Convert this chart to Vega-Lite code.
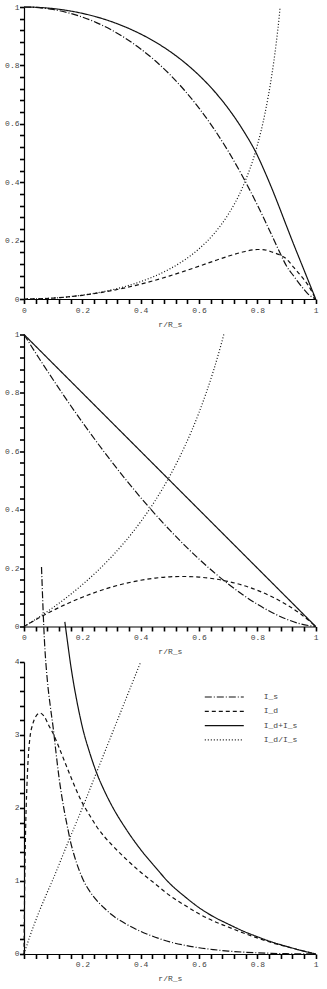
{
"$schema": "https://vega.github.io/schema/vega-lite/v6.json",
"padding": {"left": 4, "top": 3, "right": 5, "bottom": 2},
"spacing": 35.5,
"bounds": "flush",
"resolve": {"scale": {"strokeDash": "independent", "strokeWidth": "independent"}, "legend": {"strokeDash": "independent", "strokeWidth": "independent"}},
"config": {
  "view": {"stroke": null},
  "font": "Liberation Mono",
  "axis": {"domainColor": "#000", "ticks": true, "tickOpacity": 1, "tickColor": "#000", "tickSize": 4.5, "tickWidth": 1.6, "labelFont": "Liberation Mono", "labelFontSize": 8, "labelColor": "#444", "titleFont": "Liberation Mono", "titleFontSize": 8, "titleFontWeight": "normal", "titleColor": "#444", "grid": false, "labelOverlap": false, "labelFlush": false, "domainWidth": 1.2, "format": "~g"},
  "line": {"clip": true, "interpolate": "monotone", "color": "#111"}
},
"datasets": {
"p1": [
{"s":"I_s","x":0,"v":1},{"s":"I_s","x":0.05,"v":0.9979},{"s":"I_s","x":0.1,"v":0.9915},{"s":"I_s","x":0.15,"v":0.9807},{"s":"I_s","x":0.2,"v":0.9656},{"s":"I_s","x":0.25,"v":0.9458},{"s":"I_s","x":0.3,"v":0.9212},{"s":"I_s","x":0.35,"v":0.8916},{"s":"I_s","x":0.4,"v":0.8565},{"s":"I_s","x":0.45,"v":0.8158},{"s":"I_s","x":0.5,"v":0.7688},{"s":"I_s","x":0.55,"v":0.715},{"s":"I_s","x":0.6,"v":0.6538},{"s":"I_s","x":0.65,"v":0.5845},{"s":"I_s","x":0.7,"v":0.5064},{"s":"I_s","x":0.75,"v":0.4189},{"s":"I_s","x":0.8,"v":0.322},{"s":"I_s","x":0.825,"v":0.2703},{"s":"I_s","x":0.85,"v":0.2171},{"s":"I_s","x":0.875,"v":0.1634},{"s":"I_s","x":0.9,"v":0.113},{"s":"I_s","x":0.925,"v":0.078},{"s":"I_s","x":0.95,"v":0.045},{"s":"I_s","x":0.975,"v":0.016},{"s":"I_s","x":1,"v":0},
{"s":"I_d","x":0,"v":0},{"s":"I_d","x":0.05,"v":0.0008},{"s":"I_d","x":0.1,"v":0.0031},{"s":"I_d","x":0.15,"v":0.0072},{"s":"I_d","x":0.2,"v":0.0127},{"s":"I_d","x":0.25,"v":0.0199},{"s":"I_d","x":0.3,"v":0.0287},{"s":"I_d","x":0.35,"v":0.039},{"s":"I_d","x":0.4,"v":0.051},{"s":"I_d","x":0.45,"v":0.0644},{"s":"I_d","x":0.5,"v":0.0793},{"s":"I_d","x":0.55,"v":0.0954},{"s":"I_d","x":0.6,"v":0.1124},{"s":"I_d","x":0.65,"v":0.1298},{"s":"I_d","x":0.7,"v":0.1465},{"s":"I_d","x":0.75,"v":0.1609},{"s":"I_d","x":0.8,"v":0.1696},{"s":"I_d","x":0.825,"v":0.1685},{"s":"I_d","x":0.85,"v":0.1609},{"s":"I_d","x":0.875,"v":0.152},{"s":"I_d","x":0.9,"v":0.137},{"s":"I_d","x":0.925,"v":0.108},{"s":"I_d","x":0.95,"v":0.079},{"s":"I_d","x":0.975,"v":0.046},{"s":"I_d","x":1,"v":0},
{"s":"I_d+I_s","x":0,"v":1},{"s":"I_d+I_s","x":0.05,"v":0.9987},{"s":"I_d+I_s","x":0.1,"v":0.9946},{"s":"I_d+I_s","x":0.15,"v":0.9879},{"s":"I_d+I_s","x":0.2,"v":0.9783},{"s":"I_d+I_s","x":0.25,"v":0.9657},{"s":"I_d+I_s","x":0.3,"v":0.9499},{"s":"I_d+I_s","x":0.35,"v":0.9306},{"s":"I_d+I_s","x":0.4,"v":0.9075},{"s":"I_d+I_s","x":0.45,"v":0.8802},{"s":"I_d+I_s","x":0.5,"v":0.8481},{"s":"I_d+I_s","x":0.55,"v":0.8104},{"s":"I_d+I_s","x":0.6,"v":0.7662},{"s":"I_d+I_s","x":0.65,"v":0.7143},{"s":"I_d+I_s","x":0.7,"v":0.6529},{"s":"I_d+I_s","x":0.75,"v":0.5798},{"s":"I_d+I_s","x":0.8,"v":0.492},{"s":"I_d+I_s","x":0.825,"v":0.437},{"s":"I_d+I_s","x":0.85,"v":0.378},{"s":"I_d+I_s","x":0.875,"v":0.315},{"s":"I_d+I_s","x":0.9,"v":0.25},{"s":"I_d+I_s","x":0.925,"v":0.186},{"s":"I_d+I_s","x":0.95,"v":0.124},{"s":"I_d+I_s","x":0.975,"v":0.062},{"s":"I_d+I_s","x":1,"v":0},
{"s":"I_d/I_s","x":0,"v":0},{"s":"I_d/I_s","x":0.1,"v":0.0032},{"s":"I_d/I_s","x":0.2,"v":0.0132},{"s":"I_d/I_s","x":0.3,"v":0.0312},{"s":"I_d/I_s","x":0.4,"v":0.0596},{"s":"I_d/I_s","x":0.45,"v":0.079},{"s":"I_d/I_s","x":0.5,"v":0.1032},{"s":"I_d/I_s","x":0.55,"v":0.1335},{"s":"I_d/I_s","x":0.6,"v":0.1719},{"s":"I_d/I_s","x":0.65,"v":0.222},{"s":"I_d/I_s","x":0.7,"v":0.2893},{"s":"I_d/I_s","x":0.75,"v":0.3841},{"s":"I_d/I_s","x":0.8,"v":0.5267},{"s":"I_d/I_s","x":0.825,"v":0.63},{"s":"I_d/I_s","x":0.85,"v":0.7697},{"s":"I_d/I_s","x":0.86,"v":0.8393},{"s":"I_d/I_s","x":0.87,"v":0.9212},{"s":"I_d/I_s","x":0.875,"v":0.9676},{"s":"I_d/I_s","x":0.878,"v":1.0}
],
"p2": [
{"s":"I_s","x":0,"v":1},{"s":"I_s","x":0.05,"v":0.9212},{"s":"I_s","x":0.1,"v":0.8449},{"s":"I_s","x":0.15,"v":0.771},{"s":"I_s","x":0.2,"v":0.6998},{"s":"I_s","x":0.25,"v":0.6311},{"s":"I_s","x":0.3,"v":0.5651},{"s":"I_s","x":0.35,"v":0.5019},{"s":"I_s","x":0.4,"v":0.4416},{"s":"I_s","x":0.45,"v":0.3842},{"s":"I_s","x":0.5,"v":0.3299},{"s":"I_s","x":0.55,"v":0.2787},{"s":"I_s","x":0.6,"v":0.2309},{"s":"I_s","x":0.65,"v":0.1864},{"s":"I_s","x":0.7,"v":0.1457},{"s":"I_s","x":0.75,"v":0.1088},{"s":"I_s","x":0.8,"v":0.0761},{"s":"I_s","x":0.85,"v":0.0481},{"s":"I_s","x":0.9,"v":0.0251},{"s":"I_s","x":0.95,"v":0.0083},{"s":"I_s","x":1,"v":0},
{"s":"I_d","x":0,"v":0},{"s":"I_d","x":0.05,"v":0.0288},{"s":"I_d","x":0.1,"v":0.0551},{"s":"I_d","x":0.15,"v":0.079},{"s":"I_d","x":0.2,"v":0.1002},{"s":"I_d","x":0.25,"v":0.1189},{"s":"I_d","x":0.3,"v":0.1349},{"s":"I_d","x":0.35,"v":0.1481},{"s":"I_d","x":0.4,"v":0.1584},{"s":"I_d","x":0.45,"v":0.1658},{"s":"I_d","x":0.5,"v":0.1701},{"s":"I_d","x":0.55,"v":0.1713},{"s":"I_d","x":0.6,"v":0.1691},{"s":"I_d","x":0.65,"v":0.1636},{"s":"I_d","x":0.7,"v":0.1543},{"s":"I_d","x":0.75,"v":0.1412},{"s":"I_d","x":0.8,"v":0.1239},{"s":"I_d","x":0.85,"v":0.1019},{"s":"I_d","x":0.9,"v":0.0749},{"s":"I_d","x":0.95,"v":0.0417},{"s":"I_d","x":1,"v":0},
{"s":"I_d+I_s","x":0,"v":1},{"s":"I_d+I_s","x":0.1,"v":0.9},{"s":"I_d+I_s","x":0.2,"v":0.8},{"s":"I_d+I_s","x":0.3,"v":0.7},{"s":"I_d+I_s","x":0.4,"v":0.6},{"s":"I_d+I_s","x":0.5,"v":0.5},{"s":"I_d+I_s","x":0.6,"v":0.4},{"s":"I_d+I_s","x":0.7,"v":0.3},{"s":"I_d+I_s","x":0.8,"v":0.2},{"s":"I_d+I_s","x":0.9,"v":0.1},{"s":"I_d+I_s","x":1,"v":0},
{"s":"I_d/I_s","x":0,"v":0},{"s":"I_d/I_s","x":0.05,"v":0.0313},{"s":"I_d/I_s","x":0.1,"v":0.0653},{"s":"I_d/I_s","x":0.15,"v":0.1024},{"s":"I_d/I_s","x":0.2,"v":0.1433},{"s":"I_d/I_s","x":0.25,"v":0.1884},{"s":"I_d/I_s","x":0.3,"v":0.2386},{"s":"I_d/I_s","x":0.35,"v":0.2949},{"s":"I_d/I_s","x":0.4,"v":0.3587},{"s":"I_d/I_s","x":0.45,"v":0.4314},{"s":"I_d/I_s","x":0.5,"v":0.5157},{"s":"I_d/I_s","x":0.55,"v":0.6146},{"s":"I_d/I_s","x":0.6,"v":0.7328},{"s":"I_d/I_s","x":0.65,"v":0.8774},{"s":"I_d/I_s","x":0.675,"v":0.963},{"s":"I_d/I_s","x":0.685,"v":1.0}
],
"p3": [
{"s":"I_s","x":0.06,"v":5.3},{"s":"I_s","x":0.07,"v":4.3},{"s":"I_s","x":0.08,"v":3.75},{"s":"I_s","x":0.09,"v":3.4},{"s":"I_s","x":0.1,"v":3.1},{"s":"I_s","x":0.11,"v":2.75},{"s":"I_s","x":0.12,"v":2.42},{"s":"I_s","x":0.13,"v":2.15},{"s":"I_s","x":0.14,"v":1.92},{"s":"I_s","x":0.15,"v":1.72},{"s":"I_s","x":0.16,"v":1.53},{"s":"I_s","x":0.17,"v":1.38},{"s":"I_s","x":0.18,"v":1.25},{"s":"I_s","x":0.19,"v":1.14},{"s":"I_s","x":0.2,"v":1.04},{"s":"I_s","x":0.225,"v":0.86},{"s":"I_s","x":0.25,"v":0.73},{"s":"I_s","x":0.275,"v":0.63},{"s":"I_s","x":0.3,"v":0.54},{"s":"I_s","x":0.35,"v":0.41},{"s":"I_s","x":0.4,"v":0.31},{"s":"I_s","x":0.45,"v":0.23},{"s":"I_s","x":0.5,"v":0.165},{"s":"I_s","x":0.55,"v":0.12},{"s":"I_s","x":0.6,"v":0.085},{"s":"I_s","x":0.65,"v":0.06},{"s":"I_s","x":0.7,"v":0.04},{"s":"I_s","x":0.75,"v":0.026},{"s":"I_s","x":0.8,"v":0.016},{"s":"I_s","x":0.85,"v":0.009},{"s":"I_s","x":0.9,"v":0.004},{"s":"I_s","x":0.95,"v":0.001},{"s":"I_s","x":1,"v":0},
{"s":"I_d","x":0,"v":0},{"s":"I_d","x":0.002,"v":0.8},{"s":"I_d","x":0.005,"v":1.6},{"s":"I_d","x":0.01,"v":2.3},{"s":"I_d","x":0.015,"v":2.72},{"s":"I_d","x":0.02,"v":2.95},{"s":"I_d","x":0.03,"v":3.15},{"s":"I_d","x":0.04,"v":3.25},{"s":"I_d","x":0.055,"v":3.3},{"s":"I_d","x":0.07,"v":3.25},{"s":"I_d","x":0.085,"v":3.13},{"s":"I_d","x":0.1,"v":3.02},{"s":"I_d","x":0.12,"v":2.83},{"s":"I_d","x":0.14,"v":2.63},{"s":"I_d","x":0.16,"v":2.43},{"s":"I_d","x":0.18,"v":2.24},{"s":"I_d","x":0.2,"v":2.07},{"s":"I_d","x":0.225,"v":1.9},{"s":"I_d","x":0.25,"v":1.74},{"s":"I_d","x":0.275,"v":1.61},{"s":"I_d","x":0.3,"v":1.5},{"s":"I_d","x":0.35,"v":1.3},{"s":"I_d","x":0.4,"v":1.12},{"s":"I_d","x":0.45,"v":0.96},{"s":"I_d","x":0.5,"v":0.8},{"s":"I_d","x":0.55,"v":0.67},{"s":"I_d","x":0.6,"v":0.55},{"s":"I_d","x":0.65,"v":0.45},{"s":"I_d","x":0.7,"v":0.37},{"s":"I_d","x":0.75,"v":0.29},{"s":"I_d","x":0.8,"v":0.22},{"s":"I_d","x":0.85,"v":0.155},{"s":"I_d","x":0.9,"v":0.1},{"s":"I_d","x":0.95,"v":0.048},{"s":"I_d","x":1,"v":0},
{"s":"I_d+I_s","x":0.14,"v":4.55},{"s":"I_d+I_s","x":0.15,"v":4.25},{"s":"I_d+I_s","x":0.16,"v":3.96},{"s":"I_d+I_s","x":0.17,"v":3.71},{"s":"I_d+I_s","x":0.18,"v":3.49},{"s":"I_d+I_s","x":0.19,"v":3.29},{"s":"I_d+I_s","x":0.2,"v":3.11},{"s":"I_d+I_s","x":0.225,"v":2.76},{"s":"I_d+I_s","x":0.25,"v":2.47},{"s":"I_d+I_s","x":0.275,"v":2.24},{"s":"I_d+I_s","x":0.3,"v":2.04},{"s":"I_d+I_s","x":0.35,"v":1.71},{"s":"I_d+I_s","x":0.4,"v":1.43},{"s":"I_d+I_s","x":0.45,"v":1.19},{"s":"I_d+I_s","x":0.5,"v":0.965},{"s":"I_d+I_s","x":0.55,"v":0.79},{"s":"I_d+I_s","x":0.6,"v":0.635},{"s":"I_d+I_s","x":0.65,"v":0.51},{"s":"I_d+I_s","x":0.7,"v":0.41},{"s":"I_d+I_s","x":0.75,"v":0.316},{"s":"I_d+I_s","x":0.8,"v":0.236},{"s":"I_d+I_s","x":0.85,"v":0.164},{"s":"I_d+I_s","x":0.9,"v":0.104},{"s":"I_d+I_s","x":0.95,"v":0.049},{"s":"I_d+I_s","x":1,"v":0},
{"s":"I_d/I_s","x":0,"v":0},{"s":"I_d/I_s","x":0.02,"v":0.24},{"s":"I_d/I_s","x":0.05,"v":0.56},{"s":"I_d/I_s","x":0.075,"v":0.8},{"s":"I_d/I_s","x":0.1,"v":1.03},{"s":"I_d/I_s","x":0.15,"v":1.52},{"s":"I_d/I_s","x":0.2,"v":2.0},{"s":"I_d/I_s","x":0.25,"v":2.5},{"s":"I_d/I_s","x":0.3,"v":3.0},{"s":"I_d/I_s","x":0.35,"v":3.5},{"s":"I_d/I_s","x":0.4,"v":4.0}
]
},
"vconcat": [
{
 "width": 291.7, "height": 292,
 "data": {"name": "p1"},
 "mark": {"type": "line"},
 "encoding": {
  "x": {"field": "x", "type": "quantitative", "scale": {"domain": [0, 1], "nice": false}, "axis": {"ticks": true, "tickColor": "black", "tickWidth": 1.6, "tickSize": 4.5, "values": [0,0.04,0.08,0.12,0.16,0.2,0.24,0.28,0.32,0.36,0.4,0.44,0.48,0.52,0.56,0.6,0.64,0.68,0.72,0.76,0.8,0.84,0.88,0.92,0.96,1], "labelExpr": "abs(datum.value*5-round(datum.value*5))<0.001 ? datum.label : ''", "title": "r/R_s", "labelPadding": 2.5, "titlePadding": 6}},
  "y": {"field": "v", "type": "quantitative", "scale": {"domain": [0, 1], "nice": false}, "axis": {"ticks": true, "tickColor": "black", "tickWidth": 1.6, "tickSize": 4.5, "values": [0,0.04,0.08,0.12,0.16,0.2,0.24,0.28,0.32,0.36,0.4,0.44,0.48,0.52,0.56,0.6,0.64,0.68,0.72,0.76,0.8,0.84,0.88,0.92,0.96,1], "labelExpr": "abs(datum.value*5-round(datum.value*5))<0.001 ? datum.label : ''", "title": null, "labelPadding": 0.5}},
  "strokeDash": {"field": "s", "type": "nominal", "scale": {"domain": ["I_s","I_d","I_d+I_s","I_d/I_s"], "range": [[7,2,1,2],[4,3],[1,0],[1,2]]}, "legend": null},
  "strokeWidth": {"field": "s", "type": "nominal", "scale": {"domain": ["I_s","I_d","I_d+I_s","I_d/I_s"], "range": [1.2,1.2,1.3,1]}, "legend": null}
 }
},
{
 "width": 291.7, "height": 292,
 "data": {"name": "p2"},
 "mark": {"type": "line"},
 "encoding": {
  "x": {"field": "x", "type": "quantitative", "scale": {"domain": [0, 1], "nice": false}, "axis": {"ticks": true, "tickColor": "black", "tickWidth": 1.6, "tickSize": 4.5, "values": [0,0.04,0.08,0.12,0.16,0.2,0.24,0.28,0.32,0.36,0.4,0.44,0.48,0.52,0.56,0.6,0.64,0.68,0.72,0.76,0.8,0.84,0.88,0.92,0.96,1], "labelExpr": "abs(datum.value*5-round(datum.value*5))<0.001 ? datum.label : ''", "title": "r/R_s", "labelPadding": 2.5, "titlePadding": 6}},
  "y": {"field": "v", "type": "quantitative", "scale": {"domain": [0, 1], "nice": false}, "axis": {"ticks": true, "tickColor": "black", "tickWidth": 1.6, "tickSize": 4.5, "values": [0,0.04,0.08,0.12,0.16,0.2,0.24,0.28,0.32,0.36,0.4,0.44,0.48,0.52,0.56,0.6,0.64,0.68,0.72,0.76,0.8,0.84,0.88,0.92,0.96,1], "labelExpr": "abs(datum.value*5-round(datum.value*5))<0.001 ? datum.label : ''", "title": null, "labelPadding": 0.5}},
  "strokeDash": {"field": "s", "type": "nominal", "scale": {"domain": ["I_s","I_d","I_d+I_s","I_d/I_s"], "range": [[7,2,1,2],[4,3],[1,0],[1,2]]}, "legend": null},
  "strokeWidth": {"field": "s", "type": "nominal", "scale": {"domain": ["I_s","I_d","I_d+I_s","I_d/I_s"], "range": [1.2,1.2,1.3,1]}, "legend": null}
 }
},
{
 "width": 291.7, "height": 292,
 "data": {"name": "p3"},
 "mark": {"type": "line"},
 "encoding": {
  "x": {"field": "x", "type": "quantitative", "scale": {"domain": [0, 1], "nice": false}, "axis": {"ticks": true, "tickColor": "black", "tickWidth": 1.6, "tickSize": 4.5, "values": [0,0.04,0.08,0.12,0.16,0.2,0.24,0.28,0.32,0.36,0.4,0.44,0.48,0.52,0.56,0.6,0.64,0.68,0.72,0.76,0.8,0.84,0.88,0.92,0.96,1], "labelExpr": "datum.value>0 && abs(datum.value*5-round(datum.value*5))<0.001 ? datum.label : ''", "title": "r/R_s", "labelPadding": 2.5, "titlePadding": 6}},
  "y": {"field": "v", "type": "quantitative", "scale": {"domain": [0, 4], "nice": false}, "axis": {"ticks": true, "tickColor": "black", "tickWidth": 1.6, "tickSize": 4.5, "values": [0,0.2,0.4,0.6,0.8,1,1.2,1.4,1.6,1.8,2,2.2,2.4,2.6,2.8,3,3.2,3.4,3.6,3.8,4], "labelExpr": "abs(datum.value-round(datum.value))<0.001 ? datum.label : ''", "title": null, "labelPadding": 0.5}},
  "strokeDash": {"field": "s", "type": "nominal", "scale": {"domain": ["I_s","I_d","I_d+I_s","I_d/I_s"], "range": [[7,2,1,2],[4,3],[1,0],[1,2]]}, "legend": {"orient": "none", "legendX": 194.8, "legendY": 29.5, "title": null, "padding": 0, "symbolType": "M-4,0H4", "symbolSize": 95, "symbolStrokeColor": "#111", "symbolStrokeWidth": 1.3, "labelFont": "Liberation Mono", "labelFontSize": 8, "labelColor": "#444", "labelOffset": 34, "rowPadding": 4.3}},
  "strokeWidth": {"field": "s", "type": "nominal", "scale": {"domain": ["I_s","I_d","I_d+I_s","I_d/I_s"], "range": [1.2,1.2,1.4,1]}, "legend": null}
 }
}
]
}
